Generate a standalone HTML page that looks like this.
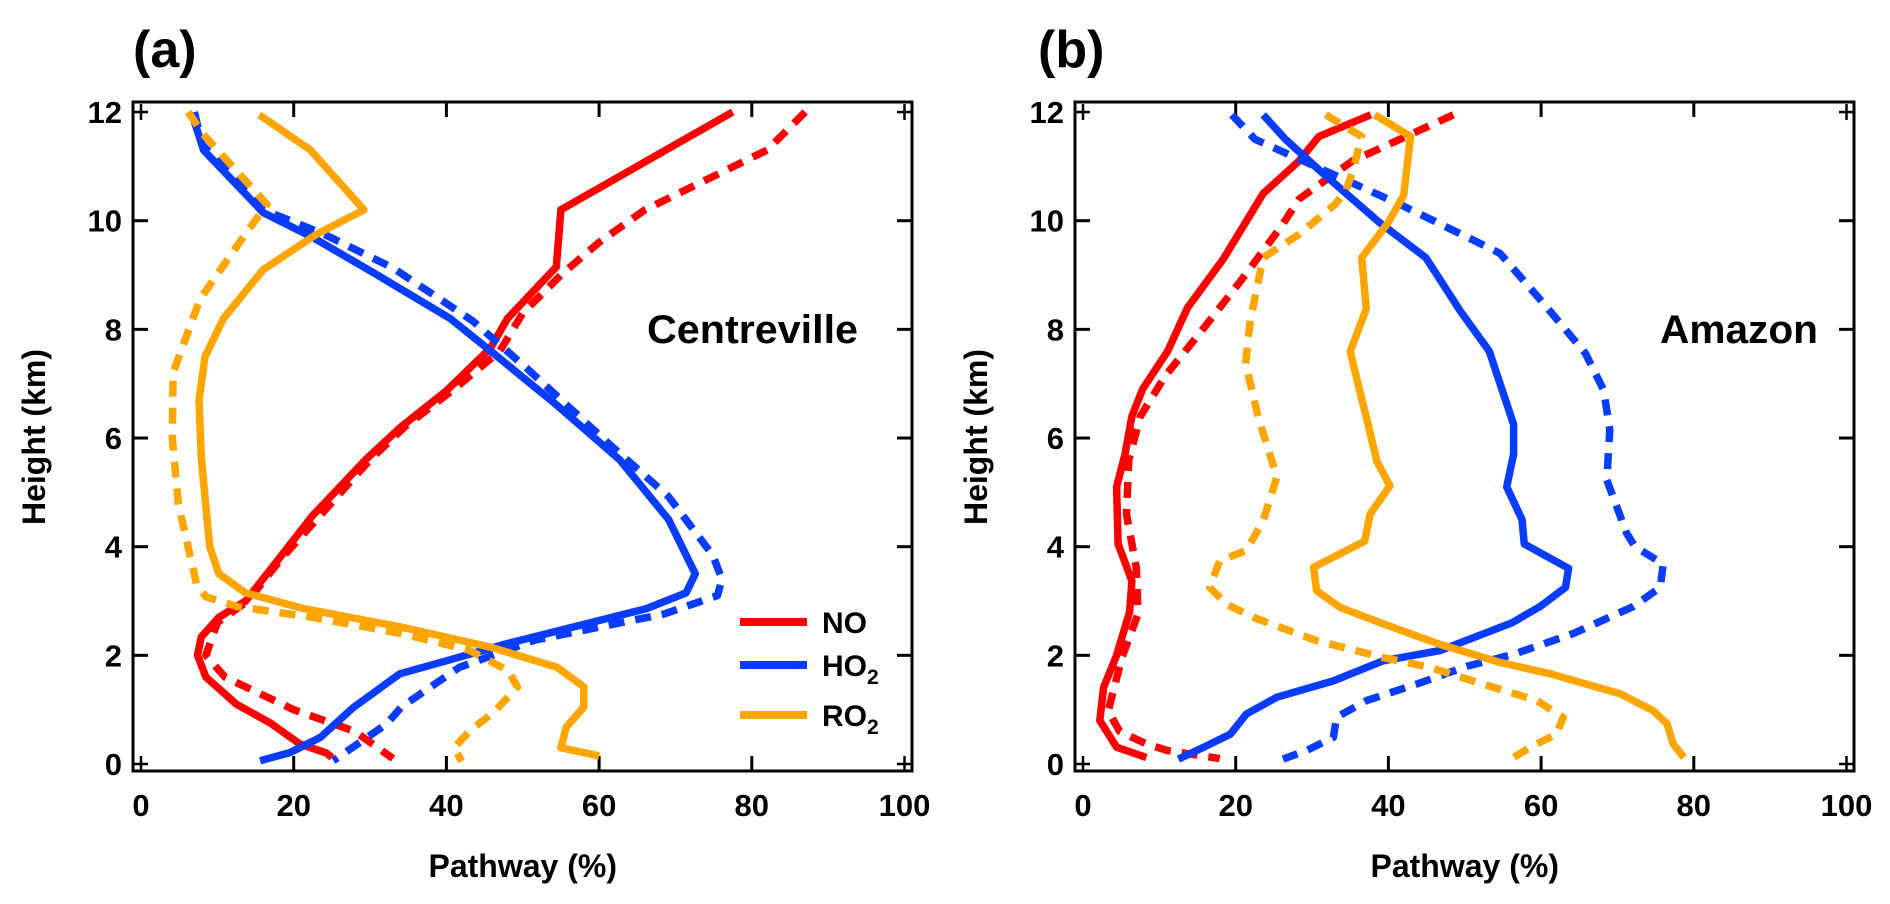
<!DOCTYPE html>
<html>
<head>
<meta charset="utf-8">
<style>
html,body{margin:0;padding:0;background:#fff;}
svg{display:block;}
text{font-family:"Liberation Sans",sans-serif;font-weight:bold;fill:#000;}
</style>
</head>
<body>
<svg id="chart" width="1890" height="904" viewBox="0 0 1890 904" xmlns="http://www.w3.org/2000/svg"></svg>
<script>
// ---- data ----
const xTicks = [0, 20, 40, 60, 80, 100];
const yTicks = [0, 2, 4, 6, 8, 10, 12];
// Panel (a) Centreville: [pathway %, height km]
const aNOSolid = [[77.5,12],[55,10.2],[54.4,9.15],[48,8.2],[45.8,7.66],[40,6.87],[34,6.2],[29.4,5.6],[22.4,4.56],[18.4,3.84],[13.7,3.0],[10.2,2.7],[7.9,2.34],[7.4,2.0],[8.5,1.6],[12.5,1.1],[17,0.75],[20.8,0.37],[24.3,0.2],[25,0.12]];
const aNODash = [[87,12],[82,11.3],[66,10.2],[60,9.6],[55,9.0],[50,8.3],[47,7.6],[41,6.9],[34.5,6.2],[30,5.6],[23,4.5],[18.5,3.8],[14,3.0],[10,2.6],[8.5,2.0],[11,1.6],[20,1.0],[28,0.6],[33,0.1]];
const aHO2Solid = [[6.7,11.95],[8.2,11.3],[16,10.15],[22.4,9.7],[30.6,9.03],[40.5,8.2],[45.8,7.6],[54.5,6.6],[62.7,5.6],[69.1,4.5],[72.6,3.5],[71.4,3.15],[66.2,2.86],[47.5,2.2],[40,1.9],[33.9,1.66],[27.8,1.04],[23.5,0.49],[19.5,0.21],[15.6,0.06]];
const aHO2Dash = [[7,12],[8,11.4],[16,10.2],[24,9.75],[33,9.13],[43.4,8.16],[50.4,7.3],[61,5.93],[69.1,4.92],[74.9,3.84],[76.1,3.4],[75.5,3.1],[68.5,2.76],[51.6,2.28],[41.7,1.78],[34.1,1.05],[32.2,0.74],[25.2,0.06]];
const aRO2Solid = [[15.5,11.95],[22.2,11.3],[29.2,10.2],[23,9.75],[16,9.1],[10.8,8.2],[8.4,7.5],[7.6,6.7],[7.9,5.64],[9,4.0],[10.2,3.5],[13.7,3.15],[21.3,2.86],[34.1,2.52],[45.8,2.15],[54.5,1.78],[58,1.42],[58,1.05],[55.7,0.68],[55,0.3],[60,0.15]];
const aRO2Dash = [[6.2,12],[8.1,11.6],[16.5,10.3],[13.9,9.8],[7.7,8.55],[4.2,7.2],[4.1,6.0],[4.9,4.78],[7.3,3.3],[8.5,3.08],[12.5,2.9],[22.4,2.7],[34.1,2.4],[42.9,2.1],[48.1,1.72],[49.3,1.42],[46.4,0.98],[43,0.6],[41,0.3],[42,0.05]];
// Panel (b) Amazon
const bNOSolid = [[37.7,11.95],[30.9,11.55],[28.3,11.1],[23.6,10.5],[18.4,9.3],[13.7,8.4],[11.1,7.6],[7.8,6.9],[6.4,6.4],[5.5,5.7],[4.4,5.1],[4.6,4.05],[6.4,3.37],[6.1,2.8],[4.4,2.0],[2.7,1.41],[2.2,0.8],[4.4,0.31],[8.3,0.12]];
const bNODash = [[48.5,11.95],[42.3,11.55],[35.3,11.1],[28.3,10.4],[26,9.9],[20.7,8.9],[15.4,7.95],[10.8,7.15],[7.5,6.4],[6,5.6],[5.7,4.6],[7,3.6],[7.2,2.76],[5.1,1.96],[3.3,0.98],[4.8,0.6],[8.3,0.37],[11,0.25],[17.9,0.1]];
const bHO2Solid = [[23.6,11.95],[26.5,11.5],[31.2,10.9],[38.8,9.97],[44.9,9.32],[49.4,8.34],[53.2,7.6],[56.4,6.25],[56.4,5.7],[55.5,5.1],[57.5,4.5],[57.8,4.05],[63.6,3.6],[63.2,3.25],[59.9,2.9],[56.2,2.6],[46.8,2.09],[39.3,1.9],[32.8,1.53],[25.4,1.23],[21.4,0.92],[19.3,0.55],[15.8,0.31],[12.5,0.09]];
const bHO2Dash = [[19.5,11.95],[22.5,11.5],[41.5,10.3],[50.3,9.7],[54.6,9.4],[60.3,8.48],[65.8,7.56],[68.2,6.88],[69,6.15],[68.6,5.23],[71.2,4.25],[72.3,4.0],[76,3.68],[75.6,3.25],[72.1,2.9],[64.2,2.4],[56.4,2.02],[50.3,1.8],[43.7,1.47],[37.2,1.17],[33.2,0.86],[32.8,0.49],[29.3,0.25],[26.2,0.09]];
const bRO2Solid = [[38.2,11.95],[42.9,11.55],[42,10.47],[40,9.97],[36.5,9.32],[37.1,8.38],[35,7.59],[36.5,6.72],[37.4,6.22],[38.5,5.57],[40.2,5.12],[37.6,4.6],[36.9,4.1],[30.2,3.62],[30.6,3.19],[33.7,2.88],[39.3,2.58],[46.8,2.2],[54.6,1.87],[61.2,1.66],[70.4,1.29],[74.7,0.98],[76.5,0.74],[77.3,0.37],[78.7,0.12]];
const bRO2Dash = [[31.8,11.95],[36.5,11.55],[35.3,10.9],[34.4,10.54],[33,10.3],[28.3,9.75],[23.6,9.32],[21.9,8.16],[21.3,7.37],[23,6.36],[25.4,5.28],[23.6,4.48],[21.4,3.93],[17.9,3.74],[16.6,3.25],[18.8,2.94],[22.3,2.7],[30.6,2.27],[39.3,1.96],[45.4,1.78],[52.4,1.47],[59.4,1.17],[62.9,0.86],[62,0.55],[58.6,0.31],[55.7,0.06]];

const RED = "#ff0000", BLUE = "#0a3cff", ORANGE = "#ffa500";
const NS = "http://www.w3.org/2000/svg";
const svg = document.getElementById('chart');

function mk(tag, attrs, parent) {
  const e = document.createElementNS(NS, tag);
  for (const k in attrs) e.setAttribute(k, attrs[k]);
  (parent || svg).appendChild(e);
  return e;
}

function panel(opts) {
  const g = mk('g', {});
  
  
  const x0 = opts.x0, pxPer = 7.635;
  const xs = p => x0 + p * pxPer;
  const ys = h => 764 - h * 54.33;
  const L = opts.left, R = opts.right, T = 102, B = 771;
  const frame = mk('rect', {x: L, y: T, width: R - L, height: B - T, fill: 'none', stroke: '#000', 'stroke-width': 3}, g);
  
  
  xTicks.forEach(t => {
    const x = xs(t);
    if (t > 0 && t < 100) {
      mk('line', {x1: x, x2: x, y1: B, y2: B - 15, stroke: '#000', 'stroke-width': 3}, g);
      mk('line', {x1: x, x2: x, y1: T, y2: T + 15, stroke: '#000', 'stroke-width': 3}, g);
    }
    const lbl = mk('text', {x: x, y: 816, 'font-size': 31, 'text-anchor': 'middle'}, g);
    lbl.textContent = t;
    
    
  });
  yTicks.forEach(t => {
    const y = ys(t);
    if (t > 0 && t < 12) {
      mk('line', {x1: L, x2: L + 15, y1: y, y2: y, stroke: '#000', 'stroke-width': 3}, g);
      mk('line', {x1: R, x2: R - 15, y1: y, y2: y, stroke: '#000', 'stroke-width': 3}, g);
    } else {
      mk('line', {x1: L, x2: L + 15, y1: y, y2: y, stroke: '#000', 'stroke-width': 2.5}, g);
      mk('line', {x1: xs(0), x2: xs(0), y1: y - 8, y2: y + 8, stroke: '#000', 'stroke-width': 2.5}, g);
      mk('line', {x1: R, x2: R - 15, y1: y, y2: y, stroke: '#000', 'stroke-width': 2.5}, g);
      mk('line', {x1: xs(100), x2: xs(100), y1: y - 8, y2: y + 8, stroke: '#000', 'stroke-width': 2.5}, g);
    }
    const lbl = mk('text', {x: L - 11, y: y + 11, 'font-size': 31, 'text-anchor': 'end'}, g);
    lbl.textContent = t;
    
    
  });
  const xt = mk('text', {x: (xs(0) + xs(100)) / 2, y: 877, 'font-size': 32, 'text-anchor': 'middle'}, g);
  xt.textContent = 'Pathway (%)';
  
  
  const yt = mk('text', {x: 0, y: 0, 'font-size': 32, 'text-anchor': 'middle', transform: `translate(${L - 88},437) rotate(-90)`}, g);
  yt.textContent = 'Height (km)';
  
  
  const pl = mk('text', {x: opts.labelX, y: 67, 'font-size': 52}, g);
  pl.textContent = opts.label;
  
  
  const site = mk('text', {x: opts.siteX, y: 343, 'font-size': 40, textLength: opts.siteW, lengthAdjust: 'spacingAndGlyphs'}, g);
  site.textContent = opts.site;
  
  
  opts.series.forEach(s => {
    const d = s.data.map((pt, i) => (i ? 'L' : 'M') + xs(pt[0]).toFixed(1) + ' ' + ys(pt[1]).toFixed(1)).join(' ');
    const attrs = {d: d, fill: 'none', stroke: s.color, 'stroke-width': 7.5, 'stroke-linejoin': 'round'};
    if (s.dash) attrs['stroke-dasharray'] = '16 11';
    const p = mk('path', attrs, g);
    
    
  });
}

panel({name: 'panel-a-centreville', x0: 141, left: 133, right: 912, label: '(a)', labelX: 133, site: 'Centreville', siteX: 647, siteW: 211,
  series: [
    {name: 'no-solid-line', data: aNOSolid, color: RED},
    {name: 'no-dashed-line', data: aNODash, color: RED, dash: true},
    {name: 'ho2-solid-line', data: aHO2Solid, color: BLUE},
    {name: 'ho2-dashed-line', data: aHO2Dash, color: BLUE, dash: true},
    {name: 'ro2-solid-line', data: aRO2Solid, color: ORANGE},
    {name: 'ro2-dashed-line', data: aRO2Dash, color: ORANGE, dash: true}
  ]});
panel({name: 'panel-b-amazon', x0: 1083, left: 1075, right: 1854, label: '(b)', labelX: 1038, site: 'Amazon', siteX: 1660, siteW: 158,
  series: [
    {name: 'no-solid-line', data: bNOSolid, color: RED},
    {name: 'no-dashed-line', data: bNODash, color: RED, dash: true},
    {name: 'ho2-solid-line', data: bHO2Solid, color: BLUE},
    {name: 'ho2-dashed-line', data: bHO2Dash, color: BLUE, dash: true},
    {name: 'ro2-solid-line', data: bRO2Solid, color: ORANGE},
    {name: 'ro2-dashed-line', data: bRO2Dash, color: ORANGE, dash: true}
  ]});

const legendNames = ['NO', 'HO', 'RO'];
const legendColors = [RED, BLUE, ORANGE];
const legendY = [622, 665, 715];
const lg = mk('g', {});


legendNames.forEach((n, i) => {
  const ln = mk('line', {x1: 740, x2: 807, y1: legendY[i], y2: legendY[i], stroke: legendColors[i], 'stroke-width': 8}, lg);
  
  
  const t = mk('text', {x: 822, y: legendY[i] + 11, 'font-size': 30}, lg);
  t.textContent = n;
  if (i > 0) {
    const sub = mk('tspan', {dy: 8, 'font-size': 21}, t);
    sub.textContent = '2';
  }
  
  
});
</script>
</body>
</html>
